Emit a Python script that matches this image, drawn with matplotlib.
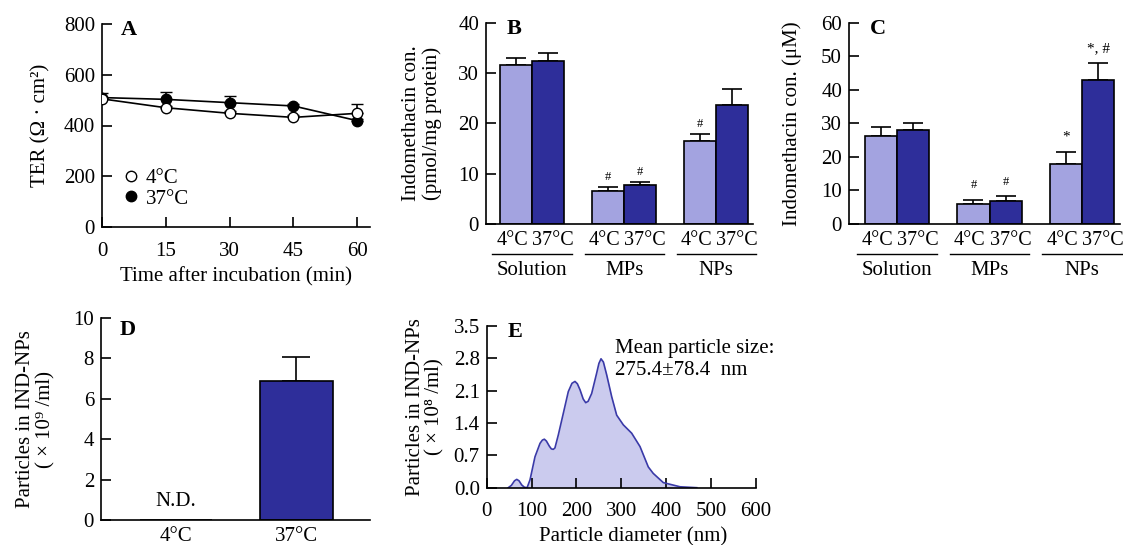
import matplotlib.pyplot as plt
from matplotlib.transforms import blended_transform_factory
from matplotlib.lines import Line2D

plt.rcParams['font.family'] = ['Liberation Serif', 'DejaVu Serif']
plt.rcParams['font.size'] = 15

# ---- data ----
# Panel A: TER over time
time_min = [0, 15, 30, 45, 60]
ter_4c = [505, 470, 448, 432, 448]
ter_4c_err = [8, 8, 8, 8, 35]
ter_37c = [510, 503, 490, 477, 419]
ter_37c_err = [20, 28, 26, 8, 8]

# Panels B, C: uptake per formulation
groups = ['Solution', 'MPs', 'NPs']
temps = ['4°C', '37°C']
uptake_4c = [31.5, 6.6, 16.4]
uptake_4c_err = [1.5, 0.75, 1.5]
uptake_37c = [32.4, 7.75, 23.7]
uptake_37c_err = [1.6, 0.65, 3.1]
uptake_4c_marks = ['', '#', '#']
uptake_37c_marks = ['', '#', '']

conc_4c = [26.3, 6.1, 17.8]
conc_4c_err = [2.5, 1.1, 3.8]
conc_37c = [28.0, 6.95, 42.9]
conc_37c_err = [2.0, 1.35, 5.2]
conc_4c_marks = ['', '#', '*']
conc_37c_marks = ['', '#', '*, #']

# Panel D: particle counts
d_labels = ['4°C', '37°C']
d_values = [0.0, 6.9]
d_err = [0.0, 1.15]

# Panel E: size distribution
diam_nm = [48, 55, 62, 67, 72, 78, 84, 90, 96.5, 107.6, 118.8, 124, 128.4, 133, 139.5,
           144, 148.4, 152, 159.5, 170.7, 181.8, 190, 196.7, 202, 207.9, 215, 220.6,
           226, 233.9, 245, 250, 254.7, 260, 267.4, 278.5, 289.6, 304.4, 323, 341.6,
           360, 371, 393.5, 430.7, 468]
count_e8 = [0, 0.05, 0.15, 0.18, 0.15, 0.06, 0.01, 0, 0.17, 0.67, 0.96, 1.03, 1.05, 1.01,
            0.90, 0.84, 0.83, 0.86, 1.14, 1.61, 2.08, 2.26, 2.30, 2.25, 2.12, 1.92, 1.84,
            1.87, 2.04, 2.48, 2.69, 2.79, 2.72, 2.44, 1.97, 1.57, 1.36, 1.18, 0.89,
            0.45, 0.31, 0.11, 0.02, 0]

light = '#A3A3E0'
dark = '#2E2E9A'
W, H = 1123, 545


def px_axes(left, right, top, bottom):
    return fig.add_axes([left / W, 1 - bottom / H, (right - left) / W, (bottom - top) / H])


def style(ax):
    for s in ['top', 'right']:
        ax.spines[s].set_visible(False)
    for s in ['left', 'bottom']:
        ax.spines[s].set_linewidth(1.2)
    ax.tick_params(axis='y', direction='in', length=7, width=1.2, pad=5)
    ax.tick_params(axis='x', direction='in', length=7, width=1.2, pad=10.5)


def letter(ax, txt, x, y):
    ax.text(x, y, txt, transform=ax.transAxes, fontweight='bold', fontsize=16,
            ha='center', va='center')


fig = plt.figure(figsize=(W / 100, H / 100), dpi=100)

# ---- A ----
axA = px_axes(102, 370, 24, 227)
style(axA)
axA.errorbar(time_min, ter_37c, yerr=[[0] * 5, ter_37c_err], color='black', lw=1.2,
             marker='o', ms=7.5, mfc='black', mec='black', capsize=4, elinewidth=1.2, zorder=2)
axA.errorbar(time_min, ter_4c, yerr=[[0] * 5, ter_4c_err], color='black', lw=1.2,
             marker='o', ms=7.5, mfc='white', mec='black', capsize=4, elinewidth=1.2, zorder=3)
axA.set_xlim(0, 63)
axA.set_ylim(0, 800)
axA.set_xticks(time_min)
axA.set_yticks([0, 200, 400, 600, 800])
axA.set_xlabel('Time after incubation (min)', labelpad=5)
axA.set_ylabel('TER (Ω · cm²)')
axA.yaxis.set_label_coords(-0.194, 0.5)
handles = [Line2D([], [], ls='none', marker='o', ms=7.5, mfc='white', mec='black'),
           Line2D([], [], ls='none', marker='o', ms=7.5, mfc='black', mec='black')]
axA.legend(handles, temps, loc='upper left', bbox_to_anchor=(0.03, 0.34), frameon=False,
           handlelength=1, handletextpad=0.2, borderpad=0, labelspacing=0.05)
letter(axA, 'A', 0.1, 0.97)


# ---- B, C ----
def group_bars(ax, v4, e4, v37, e37, m4, m37, mark_off, lab):
    style(ax)
    x = list(range(len(groups)))
    w = 0.35
    x4 = [i - w / 2 for i in x]
    x37 = [i + w / 2 for i in x]
    ax.bar(x4, v4, w, color=light, edgecolor='black', lw=1.2, zorder=2)
    ax.bar(x37, v37, w, color=dark, edgecolor='black', lw=1.2, zorder=2)
    ax.errorbar(x4, v4, yerr=[[0] * 3, e4], fmt='none', ecolor='black', capsize=7,
                elinewidth=1.2, capthick=1.2, zorder=1)
    ax.errorbar(x37, v37, yerr=[[0] * 3, e37], fmt='none', ecolor='black', capsize=7,
                elinewidth=1.2, capthick=1.2, zorder=1)
    for xs, vs, es, ms in [(x4, v4, e4, m4), (x37, v37, e37, m37)]:
        for xi, vi, ei, mi in zip(xs, vs, es, ms):
            if mi:
                fs = 9 if mi == '#' else 11
                ax.text(xi, vi + ei + mark_off, mi, ha='center', va='center', fontsize=fs)
    ax.set_xticks([])
    tr = blended_transform_factory(ax.transData, ax.transAxes)
    for i, g in enumerate(groups):
        ax.text(x4[i] - 0.04, -0.08, temps[0], transform=tr, ha='center', va='center',
                fontsize=14.5)
        ax.text(x37[i] + 0.055, -0.08, temps[1], transform=tr, ha='center', va='center',
                fontsize=14.5)
        ax.plot([i - w - 0.08, i + w + 0.08], [-0.15, -0.15], transform=tr, color='black',
                lw=1.0, clip_on=False)
        ax.text(i, -0.23, g, transform=tr, ha='center', va='center')
    letter(ax, lab, 0.105, 0.97)
    return ax


axB = px_axes(486, 753, 22.7, 224)
group_bars(axB, uptake_4c, uptake_4c_err, uptake_37c, uptake_37c_err,
           uptake_4c_marks, uptake_37c_marks, 1.9, 'B')
axB.set_xlim(-0.5, 2.4)
axB.set_ylim(0, 40)
axB.set_yticks([0, 10, 20, 30, 40])
axB.set_ylabel('Indomethacin con.\n(pmol/mg protein)', linespacing=1.05)
axB.yaxis.set_label_coords(-0.165, 0.5)

axC = px_axes(849, 1120, 22.7, 224)
group_bars(axC, conc_4c, conc_4c_err, conc_37c, conc_37c_err,
           conc_4c_marks, conc_37c_marks, 4.3, 'C')
axC.set_xlim(-0.52, 2.41)
axC.set_ylim(0, 60)
axC.set_yticks([0, 10, 20, 30, 40, 50, 60])
axC.set_ylabel('Indomethacin con. (μM)')
axC.yaxis.set_label_coords(-0.172, 0.5)

# ---- D ----
axD = px_axes(101, 370, 318, 520)
style(axD)
xd = [0, 1]
axD.bar(xd, d_values, 0.6, color=dark, edgecolor='black', lw=1.2, zorder=2)
axD.errorbar([xd[1]], [d_values[1]], yerr=[[0], [d_err[1]]], fmt='none', ecolor='black',
             capsize=10, elinewidth=1.2, capthick=1.2, zorder=1)
axD.text(xd[0], 0.9, 'N.D.', ha='center', va='center')
axD.set_xlim(-0.62, 1.61)
axD.set_ylim(0, 10)
axD.set_yticks([0, 2, 4, 6, 8, 10])
axD.set_xticks(xd)
axD.set_xticklabels(d_labels)
axD.tick_params(axis='x', length=0, pad=5)
axD.set_ylabel('Particles in IND-NPs\n( × 10⁹ /ml)', linespacing=1.05)
axD.yaxis.set_label_coords(-0.171, 0.5)
letter(axD, 'D', 0.1, 0.94)

# ---- E ----
axE = px_axes(486.7, 756, 326, 487.7)
style(axE)
axE.fill_between(diam_nm, count_e8, color='#CBCBEE', lw=0)
axE.plot(diam_nm, count_e8, color='#3A3AA8', lw=1.2)
axE.set_xlim(0, 600)
axE.set_ylim(0, 3.5)
axE.set_xticks([0, 100, 200, 300, 400, 500, 600])
axE.set_yticks([0, 0.7, 1.4, 2.1, 2.8, 3.5])
axE.set_yticklabels(['0.0', '0.7', '1.4', '2.1', '2.8', '3.5'])
axE.set_xlabel('Particle diameter (nm)')
axE.xaxis.set_label_coords(0.544, -0.245)
axE.set_ylabel('Particles in IND-NPs\n( × 10⁸ /ml)', linespacing=1.05)
axE.yaxis.set_label_coords(-0.155, 0.5)
axE.text(286, 2.78, 'Mean particle size:\n275.4±78.4  nm', ha='left', va='center',
         linespacing=1.2)
letter(axE, 'E', 0.105, 0.963)

fig.savefig('out.png', dpi=100)
